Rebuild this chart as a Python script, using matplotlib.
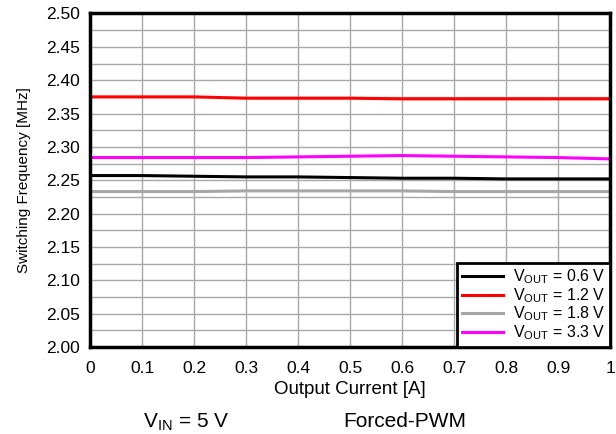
import matplotlib.pyplot as plt

# output current [A]
current = [0, 0.1, 0.2, 0.3, 0.4, 0.5, 0.6, 0.7, 0.8, 0.9, 1.0]

# switching frequency [MHz]
f_06 = [2.257, 2.257, 2.256, 2.255, 2.255, 2.254, 2.253, 2.253, 2.252, 2.252, 2.252]
f_12 = [2.375, 2.375, 2.375, 2.373, 2.373, 2.373, 2.372, 2.372, 2.372, 2.372, 2.372]
f_18 = [2.233, 2.233, 2.233, 2.234, 2.234, 2.234, 2.234, 2.233, 2.233, 2.233, 2.233]
f_33 = [2.284, 2.284, 2.284, 2.284, 2.285, 2.286, 2.287, 2.286, 2.285, 2.284, 2.282]

labels = ['V$_{\\mathregular{OUT}}$ = 0.6 V', 'V$_{\\mathregular{OUT}}$ = 1.2 V',
          'V$_{\\mathregular{OUT}}$ = 1.8 V', 'V$_{\\mathregular{OUT}}$ = 3.3 V']
colors = ['black', 'red', '#a6a6a6', 'magenta']

xticks = [i / 10 for i in range(11)]
xticklabels = ['0', '0.1', '0.2', '0.3', '0.4', '0.5', '0.6', '0.7', '0.8', '0.9', '1']
yticks = [2.0 + i * 0.05 for i in range(11)]
yminor = [2.025 + i * 0.05 for i in range(10)]

plt.rcParams['font.family'] = ['Liberation Sans', 'DejaVu Sans']
plt.rcParams['mathtext.fontset'] = 'custom'
plt.rcParams['mathtext.rm'] = 'Liberation Sans'

fig = plt.figure(figsize=(6.16, 4.34), dpi=100)
ax = fig.add_axes([0.1461, 0.2005, 0.8442, 0.7684])

for y, lab, c in zip([f_06, f_12, f_18, f_33], labels, colors):
    ax.plot(current, y, color=c, linewidth=2.2, label=lab)

ax.set_xlim(0, 1)
ax.set_ylim(2.0, 2.5)
ax.set_xticks(xticks)
ax.set_xticklabels(xticklabels)
ax.set_yticks(yticks)
ax.set_yticklabels(['%.2f' % v for v in yticks])
ax.set_yticks(yminor, minor=True)
ax.tick_params(axis='both', which='both', length=0, labelsize=12.5)
ax.tick_params(axis='x', pad=10)
ax.tick_params(axis='y', pad=7)
ax.grid(True, which='both', color='#a8a8a8', linewidth=1)
ax.set_axisbelow(True)
for s in ax.spines.values():
    s.set_linewidth(2.5)

ax.set_xlabel('Output Current [A]', fontsize=13.5, labelpad=4)
ax.set_ylabel('Switching Frequency [MHz]', fontsize=11, labelpad=11)

leg = ax.legend(loc='lower right', fontsize=11.5, frameon=True, fancybox=False,
                edgecolor='black', framealpha=1, borderpad=0.3, labelspacing=0.0,
                handlelength=2.6, handletextpad=0.6, borderaxespad=0)
leg.get_frame().set_linewidth(2)

fig.text(0.232, 0.016, 'V$_{\\mathregular{IN}}$ = 5 V', fontsize=15, va='baseline')
fig.text(0.557, 0.016, 'Forced-PWM', fontsize=15, va='baseline')

fig.savefig('out.png', dpi=100)
